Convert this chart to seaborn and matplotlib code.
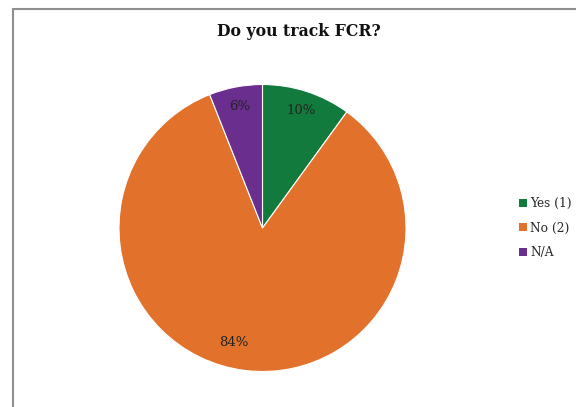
import matplotlib
matplotlib.use("Agg")
import matplotlib.pyplot as plt
import seaborn as sns
from matplotlib.patches import Patch, Rectangle

categories = ["Yes (1)", "No (2)", "N/A"]
shares = [10, 84, 6]
colors = ["#117a3c", "#e2712b", "#6a2e8f"]
title = "Do you track FCR?"

sns.set_theme(style="white")
plt.rcParams["font.family"] = ["DejaVu Serif"]

W, H = 576, 407
fig = plt.figure(figsize=(W / 100, H / 100), dpi=100)
fig.patch.set_facecolor("white")

# chart-area border (top and left edges visible)
fig.add_artist(Rectangle((12.5 / W, -0.1), 1.2, (H - 8.5) / H + 0.1,
                         transform=fig.transFigure, fill=False,
                         edgecolor="#8e8e8e", linewidth=1.5))

cx, cy, r = 262.5, 228.0, 143.5
ax = fig.add_axes([(cx - r) / W, (H - cy - r) / H, 2 * r / W, 2 * r / H])
wedges, texts, autotexts = ax.pie(
    shares, colors=colors, startangle=90, counterclock=False,
    autopct="%1.0f%%", pctdistance=0.86,
    wedgeprops=dict(edgecolor="white", linewidth=0.8),
    textprops=dict(color="#222222", fontsize=9.5),
)
# the large slice's label sits a little left of its bisector
autotexts[1].set_position((-0.2, -0.8))
ax.set_xlim(-1, 1)
ax.set_ylim(-1, 1)
ax.set_aspect("equal")
ax.axis("off")

fig.text(299 / W, 1 - 32 / H, title, ha="center", va="center",
         fontsize=11.3, fontweight="bold", color="#111111")

handles = [Patch(facecolor=c, edgecolor="none") for c in colors]
fig.legend(handles, categories, loc="center left",
           bbox_to_anchor=(511 / W, 1 - 228 / H), frameon=False,
           fontsize=8.7, handlelength=0.6, handleheight=0.6,
           handletextpad=0.3, labelspacing=0.95, borderpad=0.2)

fig.savefig("out.png", dpi=100)
